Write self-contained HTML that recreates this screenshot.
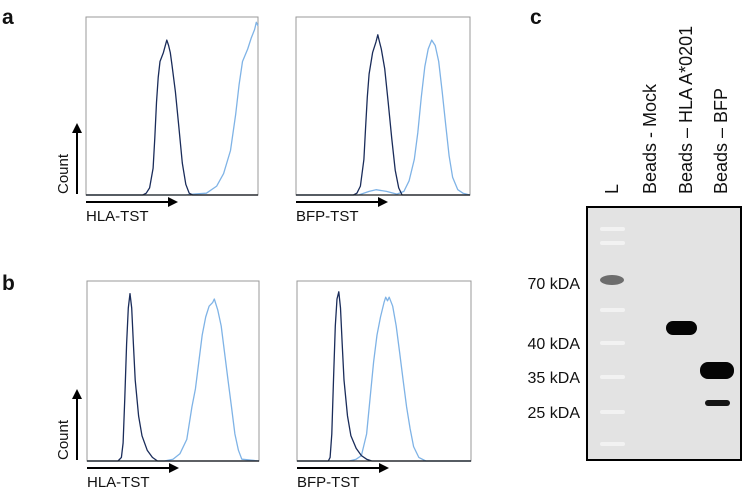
<!DOCTYPE html>
<html><head><meta charset="utf-8"><style>
body{margin:0;background:#fff;width:744px;height:492px;overflow:hidden;font-family:"Liberation Sans",sans-serif}
svg{position:absolute;left:0;top:0}
</style></head><body>
<svg id="fig" width="744" height="492"></svg>
<script>
// Histogram data: [intensity %, count %]
const a1Dark=[[0,0],[33,0],[35,1],[37,4],[39,15],[40,32],[41,52],[42,66],[43,75],[45,80],[47,87],[48,84],[49,80],[50,73],[52,58],[54,38],[56,18],[58,6],[60,1],[62,0],[100,0]];
const a1Light=[[0,0],[58,0],[62,0.5],[70,1],[76,5],[80,12],[84,25],[87,45],[89,62],[91,75],[94,82],[96,88],[98,93],[99,97],[100,95]];
const a2Dark=[[0,0],[33,0],[35,1],[37,5],[39,20],[40,38],[41,55],[42,68],[44,80],[46,86],[47,90],[48,86],[49,82],[51,71],[53,52],[55,32],[57,14],[59,4],[61,0],[100,0]];
const a2Light=[[0,0],[36,0],[42,2],[46,3],[52,2],[58,0.5],[62,2],[65,8],[68,20],[70,35],[72,55],[74,72],[76,82],[78,87],[80,84],[82,75],[84,58],[86,40],[88,22],[90,10],[93,3],[96,1],[100,0]];
const b1Dark=[[0,0],[18,0],[20,2],[21,10],[22,35],[23,65],[24,85],[25,93],[26,85],[27,65],[28,45],[30,25],[32,14],[35,6],[38,2],[41,0],[100,0]];
const b1Light=[[0,0],[45,0],[50,1],[54,4],[58,12],[61,30],[63,40],[65,55],[67,70],[69,80],[71,86],[73,88],[74,90],[76,84],[78,75],[80,60],[82,45],[84,30],[86,15],[88,6],[90,1],[100,0]];
const b2Dark=[[0,0],[18,0],[19,2],[20,15],[21,45],[22,75],[23,90],[24,94],[25,85],[26,65],[27,45],[29,25],[31,14],[34,7],[37,3],[40,1],[43,0],[100,0]];
const b2Light=[[0,0],[30,0],[34,1],[37,3],[40,15],[42,35],[44,55],[46,70],[48,80],[50,88],[51,91],[52,89],[53,91],[55,86],[57,75],[59,60],[61,45],[63,30],[65,18],[67,8],[70,2],[74,0],[100,0]];
const kdaLabels=["70 kDA","40 kDA","35 kDA","25 kDA"];
const laneLabels=["L","Beads - Mock","Beads \u2013 HLA A*0201","Beads \u2013 BFP"];

const S=document.getElementById('fig');const NS='http://www.w3.org/2000/svg';
function mk(t,a,p){const e=document.createElementNS(NS,t);for(const k in a)e.setAttribute(k,a[k]);(p||S).appendChild(e);return e;}
function txt(x,y,s,size,extra){const e=mk('text',Object.assign({x:x,y:y,'font-size':size,fill:'#111'},extra||{}));e.textContent=s;return e;}

const panels=[
 {x0:86,x1:258,y0:17,y1:195,dark:a1Dark,light:a1Light,lab:'HLA-TST',name:'a-hla'},
 {x0:296,x1:470,y0:17,y1:195,dark:a2Dark,light:a2Light,lab:'BFP-TST',name:'a-bfp'},
 {x0:87,x1:259,y0:281,y1:461,dark:b1Dark,light:b1Light,lab:'HLA-TST',name:'b-hla'},
 {x0:297,x1:471,y0:281,y1:461,dark:b2Dark,light:b2Light,lab:'BFP-TST',name:'b-bfp'}];
panels.forEach((p,i)=>{
 const g=mk('g',{});
 
 
 const fx=v=>p.x0+v/100*(p.x1-p.x0), fy=v=>p.y1-v/100*(p.y1-p.y0);
 mk('rect',{x:p.x0,y:p.y0,width:p.x1-p.x0,height:p.y1-p.y0,fill:'none',stroke:'#999','stroke-width':1},g);
 [[p.light,'#7fb3e6'],[p.dark,'#1a2c5a']].forEach(([d,c],k)=>{
  const l=mk('polyline',{points:d.map(q=>fx(q[0]).toFixed(1)+','+fy(q[1]).toFixed(1)).join(' '),fill:'none',stroke:c,'stroke-width':1.3,'stroke-linejoin':'round'},g);
  
  
 });
 mk('line',{x1:p.x0,y1:p.y1,x2:p.x1,y2:p.y1,stroke:'#222','stroke-width':1.2},g);
 const ay=p.y1+7;
 mk('line',{x1:p.x0,y1:ay,x2:p.x0+84,y2:ay,stroke:'#000','stroke-width':2},g);
 mk('polygon',{points:`${p.x0+92},${ay} ${p.x0+82},${ay-5} ${p.x0+82},${ay+5}`,fill:'#000'},g);
 const t=txt(p.x0,ay+19,p.lab,15,{});
 
 
 if(i%2==0){
  mk('line',{x1:77,y1:p.y1-1,x2:77,y2:p.y1-62,stroke:'#000','stroke-width':2},g);
  mk('polygon',{points:`77,${p.y1-72} 72,${p.y1-62} 82,${p.y1-62}`,fill:'#000'},g);
  const c=txt(0,0,'Count',15,{transform:`translate(68,${p.y1-1}) rotate(-90)`});
  
  
 }
});
[['a',2,24],['b',2,290],['c',530,24]].forEach(([s,x,y])=>{const t=txt(x,y,s,21,{'font-weight':'bold'});});

const blot=mk('g',{});


mk('rect',{x:587,y:207,width:154,height:253,fill:'#e3e3e3',stroke:'#000','stroke-width':2},blot);
const ladderY=[229,243,310,343,377,412,444];
ladderY.forEach(y=>mk('rect',{x:600,y:y-2,width:25,height:4,rx:2,fill:'#f2f2f2'},blot));
mk('ellipse',{cx:612,cy:280,rx:12,ry:5,fill:'#6d6d6d'},blot);
mk('rect',{x:666,y:321,width:31,height:14,rx:7,fill:'#050505'},blot);
mk('rect',{x:700,y:362,width:34,height:17,rx:8,fill:'#050505'},blot);
mk('rect',{x:705,y:400,width:25,height:6,rx:3,fill:'#151515'},blot);
const kdaY=[289,349,383,418];
kdaLabels.forEach((s,i)=>{const t=txt(580,kdaY[i],s,16,{'text-anchor':'end'});});
const laneX=[618,656,692,727];
laneLabels.forEach((s,i)=>{const t=txt(0,0,s,18,{transform:`translate(${laneX[i]},194) rotate(-90)`});});
</script>
</body></html>
